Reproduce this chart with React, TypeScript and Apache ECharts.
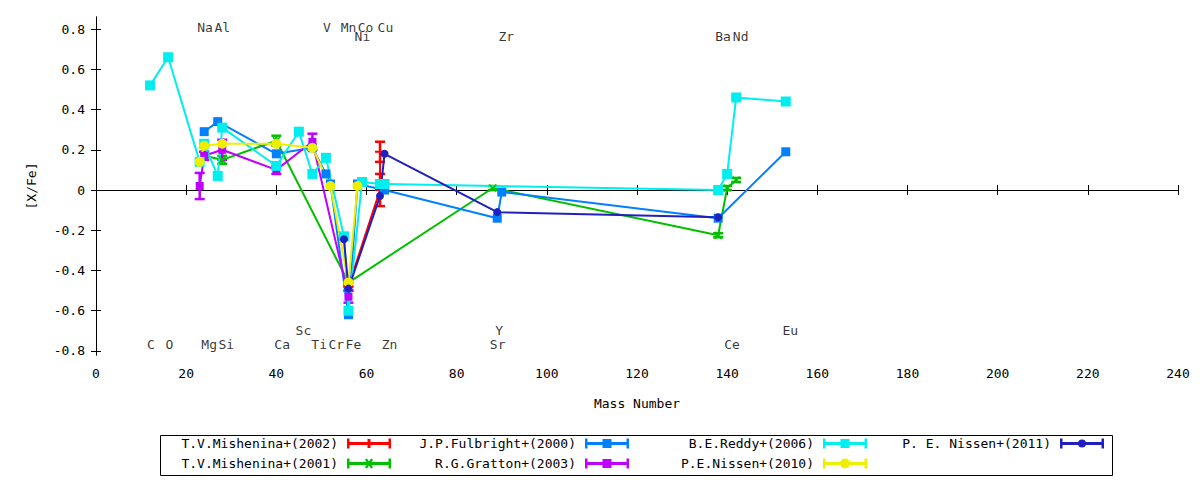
import * as echarts from "echarts";
import { useEffect, useRef } from "react";

const FONT = "DejaVu Sans Mono";

// [mass number, [X/Fe]]
const mishenina2002 = [[56, -0.48], [63, 0.0], [63, 0.19]];
const mishenina2002Err = [0.02, 0.08, 0.05];
const mishenina2001 = [[24, 0.17], [28, 0.15], [40, 0.245], [56, -0.46], [88, 0.01], [138, -0.225], [140, 0.01], [142, 0.05]];
const mishenina2001Err = [0.02, 0.02, 0.025, 0.02, 0.01, 0.01, 0.01, 0.01];
const fulbright2000 = [[24, 0.29], [27, 0.34], [40, 0.18], [48, 0.21], [51, 0.08], [52, 0.03], [56, -0.62], [58, 0.03], [64, 0.0], [89, -0.14], [90, -0.01], [138, -0.14], [153, 0.19]];
const gratton2003 = [[23, 0.02], [24, 0.17], [28, 0.2], [40, 0.1], [48, 0.24], [56, -0.53]];
const gratton2003Err = [0.065, 0.02, 0.05, 0.02, 0.04, 0.03];
const reddy2006 = [[12, 0.52], [16, 0.66], [23, 0.14], [24, 0.23], [27, 0.07], [28, 0.31], [40, 0.12], [45, 0.29], [48, 0.08], [51, 0.16], [55, -0.23], [56, -0.6], [59, 0.04], [63, 0.03], [64, 0.03], [138, 0.0], [140, 0.08], [142, 0.46], [153, 0.44]];
const nissen2010 = [[23, 0.14], [24, 0.22], [28, 0.23], [40, 0.23], [48, 0.21], [52, 0.02], [56, -0.46], [58, 0.02]];
const nissen2011 = [[55, -0.245], [56, -0.49], [63, -0.03], [64, 0.18], [89, -0.11], [138, -0.135]];

const seriesNames = [
  "T.V.Mishenina+(2002)",
  "T.V.Mishenina+(2001)",
  "J.P.Fulbright+(2000)",
  "R.G.Gratton+(2003)",
  "B.E.Reddy+(2006)",
  "P.E.Nissen+(2010)",
  "P. E. Nissen+(2011)",
];
const seriesColors = ["#ff0000", "#00c000", "#0080ff", "#c000ff", "#00eeee", "#eeee00", "#2020c0"];

// element name, label x (mass), label y
const elementLabels: [string, number, number][] = [
  ["C", 12.2, -0.769], ["O", 16.3, -0.769], ["Mg", 25.1, -0.769], ["Si", 28.9, -0.769],
  ["Ca", 41.3, -0.769], ["Ti", 49.5, -0.769], ["Cr", 53.3, -0.769], ["Fe", 57.1, -0.769],
  ["Zn", 65.1, -0.769], ["Sr", 89.1, -0.769], ["Ce", 141.1, -0.769],
  ["Sc", 46.0, -0.7], ["Y", 89.4, -0.7], ["Eu", 154.0, -0.7],
  ["Na", 24.2, 0.81], ["Al", 28.0, 0.81], ["V", 51.2, 0.81], ["Mn", 56.0, 0.81],
  ["Co", 59.8, 0.81], ["Cu", 64.2, 0.81],
  ["Ni", 59.1, 0.761], ["Zr", 91.0, 0.761], ["Ba", 139.1, 0.761], ["Nd", 143.0, 0.761],
];

const yTicks = [-0.8, -0.6, -0.4, -0.2, 0, 0.2, 0.4, 0.6, 0.8];

const plusSymbol = "path://M4 0H6V10H4Z M0 4H10V6H0Z";
const crossSymbol = "path://M0 1.4L1.4 0L5 3.6L8.6 0L10 1.4L6.4 5L10 8.6L8.6 10L5 6.4L1.4 10L0 8.6L3.6 5Z";

const capBar = "M0 3.5H44V6.5H0Z M0 0H2.5V10H0Z M41.5 0H44V10H41.5Z";
const iconSquare = " M17.5 0.5H26.5V9.5H17.5Z";
const iconCircle = " M17 5A5 5 0 1 1 27 5A5 5 0 1 1 17 5Z";
const legendIcons = [
  "path://" + capBar + " M20.5 0.5H23.5V9.5H20.5Z",
  "path://" + capBar + " M18 1L20 0L22 3L24 0L26 1L24 5L26 9L24 10L22 7L20 10L18 9L20 5Z",
  "path://" + capBar + iconSquare,
  "path://" + capBar + iconSquare,
  "path://" + capBar + iconSquare,
  "path://" + capBar + iconCircle,
  "path://" + capBar + " M18 5A4 4 0 1 1 26 5A4 4 0 1 1 18 5Z",
];

const legendRight = [809, 571, 333, 96];
const legendTop = [437, 457];

const errorBars = (points: number[][], errs: number[], color: string) => ({
  type: "custom",
  silent: true,
  z: 3,
  data: points.map((p, i) => [p[0], p[1] - errs[i], p[1] + errs[i]]),
  encode: { x: 0, y: [1, 2] },
  renderItem: (_params: any, api: any) => {
    const x = api.value(0);
    const top = api.coord([x, api.value(2)]);
    const bot = api.coord([x, api.value(1)]);
    const style = { stroke: color, lineWidth: 2.5 };
    return {
      type: "group",
      children: [
        { type: "line", shape: { x1: top[0], y1: top[1], x2: bot[0], y2: bot[1] }, style },
        { type: "line", shape: { x1: top[0] - 5, y1: top[1], x2: top[0] + 5, y2: top[1] }, style },
        { type: "line", shape: { x1: bot[0] - 5, y1: bot[1], x2: bot[0] + 5, y2: bot[1] }, style },
      ],
    };
  },
});

const lineSeries = (idx: number, data: number[][], symbol: string, size: number) => ({
  name: seriesNames[idx],
  type: "line",
  data,
  symbol,
  symbolSize: size,
  itemStyle: { color: seriesColors[idx] },
  lineStyle: { color: seriesColors[idx], width: 2 },
  emphasis: { disabled: true },
  z: 3,
});

const App = () => {
  const chartRef = useRef<HTMLDivElement>(null);

  useEffect(() => {
    if (!chartRef.current) return;
    const myChart = echarts.init(chartRef.current, undefined, { renderer: "svg" });

    const textStyle = { fontFamily: FONT, fontSize: 13, color: "#000" };

    const legends = seriesNames.map((name, i) => ({
      data: [{ name, icon: legendIcons[i] }],
      right: legendRight[Math.floor(i / 2)],
      top: legendTop[i % 2],
      align: "right",
      orient: "horizontal",
      padding: 0,
      itemWidth: 44,
      itemHeight: 10,
      selectedMode: false,
      textStyle: { ...textStyle, padding: [0, 4, 0, 0] },
    }));

    const axisLine = { show: true, lineStyle: { color: "#000", width: 1 } };
    const tick = { show: true, inside: true, length: 5, lineStyle: { color: "#000" } };

    const option = {
      animation: false,
      backgroundColor: "#fff",
      textStyle: { fontFamily: FONT },
      grid: { left: 96, right: 22, top: 17, bottom: 125 },
      legend: legends,
      xAxis: [
        {
          type: "value",
          min: 0,
          max: 240,
          interval: 20,
          position: "bottom",
          name: "Mass Number",
          nameLocation: "middle",
          nameGap: 42,
          nameTextStyle: textStyle,
          axisLine,
          axisTick: tick,
          splitLine: { show: false },
          axisLabel: { ...textStyle, margin: 12 },
        },
        {
          type: "value",
          min: 0,
          max: 240,
          interval: 20,
          position: "top",
          axisLine,
          axisTick: tick,
          splitLine: { show: false },
          axisLabel: { show: false },
        },
      ],
      yAxis: [
        {
          type: "value",
          min: -0.82,
          max: 0.86,
          position: "left",
          name: "[X/Fe]",
          nameLocation: "middle",
          nameRotate: 90,
          nameGap: 58,
          nameTextStyle: textStyle,
          axisLine,
          axisTick: { ...tick, customValues: yTicks },
          splitLine: { show: false },
          axisLabel: {
            ...textStyle,
            margin: 11,
            customValues: yTicks,
            formatter: (v: number) => String(Math.round(v * 10) / 10),
          },
        },
        {
          type: "value",
          min: -0.82,
          max: 0.86,
          position: "right",
          axisLine,
          axisTick: { ...tick, customValues: yTicks },
          splitLine: { show: false },
          axisLabel: { show: false },
        },
      ],
      graphic: [
        {
          type: "rect",
          shape: { x: 160.5, y: 435.5, width: 952, height: 40 },
          style: { fill: "none", stroke: "#000", lineWidth: 1 },
          silent: true,
        },
      ],
      series: [
        lineSeries(0, mishenina2002, plusSymbol, 10),
        errorBars(mishenina2002, mishenina2002Err, seriesColors[0]),
        lineSeries(1, mishenina2001, crossSymbol, 8),
        errorBars(mishenina2001, mishenina2001Err, seriesColors[1]),
        lineSeries(2, fulbright2000, "rect", 9),
        lineSeries(3, gratton2003, "rect", 8),
        errorBars(gratton2003, gratton2003Err, seriesColors[3]),
        lineSeries(4, reddy2006, "rect", 10),
        lineSeries(5, nissen2010, "circle", 10),
        lineSeries(6, nissen2011, "circle", 8),
        {
          type: "scatter",
          silent: true,
          symbolSize: 0,
          z: 10,
          data: elementLabels.map(([n, x, y]) => ({ name: n, value: [x, y] })),
          label: { show: true, position: "inside", formatter: "{b}", ...textStyle },
        },
      ],
    };

    myChart.setOption(option as any);

    return () => {
      myChart.dispose();
    };
  }, []);

  return <div ref={chartRef} style={{ position: "fixed", left: 0, top: 0, width: 1200, height: 480 }} />;
};

export default App;
